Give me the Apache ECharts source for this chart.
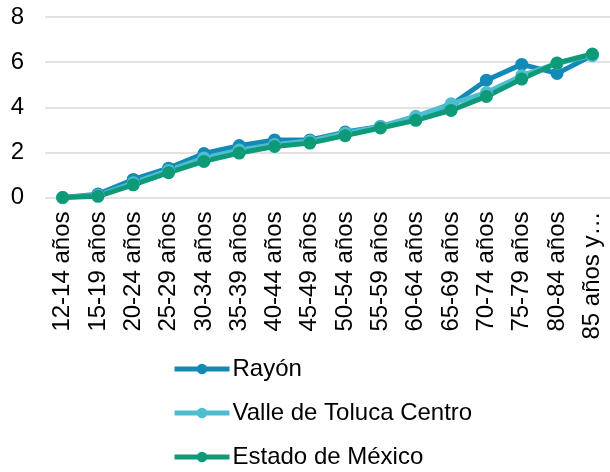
<!DOCTYPE html>
<html><head><meta charset="utf-8">
<script src="https://cdn.jsdelivr.net/npm/echarts@6/dist/echarts.min.js"></script>
<style>html,body{margin:0;padding:0;background:#fff}#c{width:610px;height:472px}</style>
</head><body><div id="c"></div>
<script>
const categories = ["12-14 años","15-19 años","20-24 años","25-29 años","30-34 años","35-39 años","40-44 años","45-49 años","50-54 años","55-59 años","60-64 años","65-69 años","70-74 años","75-79 años","80-84 años","85 años y…"];
const rayon = [0, 0.15, 0.8, 1.3, 1.95, 2.3, 2.55, 2.55, 2.9, 3.15, 3.55, 4.1, 5.2, 5.9, 5.5, 6.3];
const valle = [0, 0.1, 0.65, 1.2, 1.75, 2.1, 2.35, 2.5, 2.85, 3.15, 3.6, 4.15, 4.65, 5.4, 5.95, 6.3];
const estado = [0, 0.05, 0.56, 1.1, 1.6, 1.97, 2.26, 2.41, 2.74, 3.08, 3.42, 3.86, 4.48, 5.25, 5.96, 6.36];
const yTicks = [0, 2, 4, 6, 8];

const chart = echarts.init(document.getElementById('c'));
const font = 'Liberation Sans, Arial, sans-serif';
function s(name, data, color){
  return {name, type:'line', data, symbol:'circle', symbolSize:13,
    lineStyle:{width:5, color}, itemStyle:{color}};
}
chart.setOption({
  animation:false,
  textStyle:{fontFamily:font},
  grid:{left:45, right:-3, top:17, height:180.5},
  legend:{orient:'vertical', left:172, top:357, padding:0, itemWidth:55, itemHeight:13, itemGap:20,
    lineStyle:{width:5},
    textStyle:{fontSize:24, color:'#000', fontFamily:font, padding:[0,0,0,-2]},
    data:['Rayón','Valle de Toluca Centro','Estado de México']},
  xAxis:{type:'category', data:categories, boundaryGap:true,
    axisLine:{show:false}, axisTick:{show:false},
    axisLabel:{rotate:90, fontSize:24, color:'#000', margin:14, interval:0, fontFamily:font}},
  yAxis:{type:'value', min:yTicks[0], max:yTicks[yTicks.length-1], interval:2,
    axisLabel:{fontSize:24, color:'#000', margin:21, fontFamily:font},
    splitLine:{lineStyle:{color:'#d9d9d9', width:1.5}}},
  series:[s('Rayón', rayon, '#138ab5'), s('Valle de Toluca Centro', valle, '#4fbdd0'), s('Estado de México', estado, '#0e9a77')]
});
</script></body></html>
